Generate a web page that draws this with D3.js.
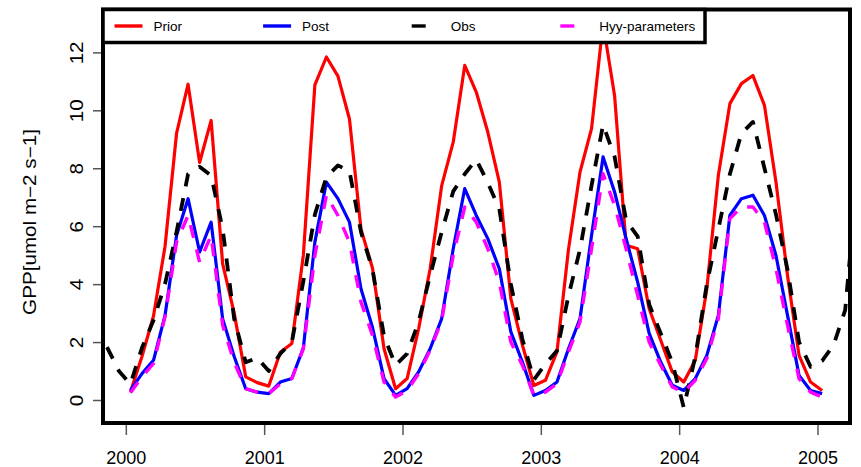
<html>
<head>
	<meta charset="UTF-8">
	<script src="https://cdn.jsdelivr.net/npm/d3@7"></script>
	<style>
		body { margin: 0; background: white; }
		text { font-family: "Liberation Sans", Arial, sans-serif; fill: black; }
		path.series { fill: none; stroke-linejoin: round; }
		.tick line { stroke: #555; stroke-width: 1.5; }
	</style>
</head>
<body>

<div id="graph"></div>

<script type="text/javascript">
// monthly GPP, Jan 2000 .. Jan 2005
var prior = [0.28, 1.5, 2.9, 5.3, 9.2, 10.9, 8.2, 9.65, 4.7, 3.0, 0.8, 0.6,
	0.48, 1.65, 1.95, 5.0, 10.88, 11.84, 11.18, 9.7, 5.9, 4.55, 1.77, 0.39,
	0.74, 2.46, 4.53, 7.4, 8.9, 11.55, 10.63, 9.25, 7.52, 3.5, 1.9, 0.5,
	0.68, 1.66, 5.2, 7.87, 9.37, 13.0, 10.5, 5.34, 5.22, 3.15, 2.06, 0.97,
	0.62, 1.37, 3.84, 7.76, 10.23, 10.92, 11.2, 10.17, 7.52, 4.3, 1.54, 0.62,
	0.33];
var post = [0.33, 0.91, 1.37, 2.92, 5.68, 6.95, 5.11, 6.14, 2.8, 1.5, 0.39, 0.27,
	0.22, 0.62, 0.74, 1.8, 5.45, 7.52, 6.95, 6.14, 3.84, 2.5, 0.74, 0.16,
	0.39, 0.97, 1.77, 2.81, 5.22, 7.3, 6.37, 5.57, 4.53, 2.35, 1.31, 0.16,
	0.33, 0.62, 1.77, 2.81, 5.68, 8.39, 7.18, 5.57, 4.07, 2.3, 1.31, 0.51,
	0.33, 0.74, 1.54, 2.92, 6.37, 6.95, 7.07, 6.37, 4.99, 2.92, 0.85, 0.33,
	0.22];
var hyy = [0.25, 0.8, 1.26, 2.87, 5.45, 6.37, 4.76, 5.68, 2.58, 1.3, 0.39, 0.27,
	0.22, 0.56, 0.74, 1.77, 4.99, 7.07, 6.37, 5.45, 3.38, 2.23, 0.62, 0.1,
	0.33, 0.91, 1.72, 2.75, 4.99, 6.66, 6.14, 5.22, 4.07, 2.0, 1.2, 0.16,
	0.27, 0.56, 1.66, 2.7, 5.22, 7.81, 6.72, 5.22, 3.61, 2.0, 1.2, 0.45,
	0.27, 0.68, 1.43, 2.81, 6.26, 6.66, 6.66, 6.14, 4.53, 2.58, 0.74, 0.27,
	0.1];
// observations run Oct 1999 .. Apr 2005
var obsStart = -3;
var obs = [2.6, 1.8, 1.0,
	0.55, 1.8, 2.75, 4.0, 5.8, 7.8, 8.05, 7.75, 5.9, 2.8, 1.3, 1.45,
	1.0, 1.6, 2.0, 4.1, 6.4, 7.7, 8.1, 7.9, 5.8, 4.5, 2.2, 1.2,
	1.6, 2.7, 4.3, 5.8, 7.2, 7.8, 8.3, 7.5, 6.6, 4.0, 2.1, 0.7,
	1.25, 1.7, 3.6, 5.2, 7.4, 9.5, 8.4, 6.2, 5.65, 3.3, 2.3, 1.3,
	-0.26, 1.5, 4.0, 5.9, 7.8, 9.2, 9.6, 8.0, 6.4, 4.5, 2.0, 1.15,
	1.35, 1.9, 3.1, 7.5];

var years = [2000, 2001, 2002, 2003, 2004, 2005];
var yTicks = [0, 2, 4, 6, 8, 10, 12];
var names = ["Prior", "Post", "Obs", "Hyy-parameters"];
var colors = ["#ff0000", "#0000ff", "#000000", "#ff00ff"];

(function(d3) {
	var W = 861, H = 467;
	var left = 103, right = 850, top = 9.5, bottom = 423;

	var vis = d3.select("#graph").append("svg")
		.attr("width", W).attr("height", H);
	vis.append("rect").attr("width", W).attr("height", H).attr("fill", "white");

	var x = d3.scaleLinear().domain([1999.835, 2005.235]).range([left, right]);
	var y = d3.scaleLinear().domain([-0.794, 13.48]).range([bottom, top]);

	function month(i) { return 2000 + (i + 0.4) / 12; }

	vis.append("clipPath").attr("id", "clip")
		.append("rect")
		.attr("x", left).attr("y", top)
		.attr("width", right - left).attr("height", bottom - top);

	var line = d3.line()
		.x(function(d) { return x(d[0]); })
		.y(function(d) { return y(d[1]); });

	function pairs(vals, start) {
		return vals.map(function(v, i) { return [month(i + start), v]; });
	}

	var series = [
		{ data: pairs(prior, 0), color: colors[0], width: 3.2, dash: null },
		{ data: pairs(post, 0), color: colors[1], width: 3.2, dash: null },
		{ data: pairs(obs, obsStart), color: colors[2], width: 3.8, dash: "13,12" },
		{ data: pairs(hyy, 0), color: colors[3], width: 3.4, dash: "13,12" }
	];

	var g = vis.append("g").attr("clip-path", "url(#clip)");
	series.forEach(function(s) {
		g.append("path")
			.attr("class", "series")
			.attr("d", line(s.data))
			.attr("stroke", s.color)
			.attr("stroke-width", s.width)
			.attr("stroke-dasharray", s.dash);
	});

	// axes
	var xa = vis.append("g")
		.attr("transform", "translate(0," + bottom + ")")
		.call(d3.axisBottom(x).tickValues(years).tickFormat(d3.format("d")).tickSize(12).tickPadding(0));
	xa.select(".domain").remove();
	xa.selectAll("text").attr("font-size", 18).attr("y", 0).attr("dy", 0)
		.attr("transform", "translate(0,41)");

	var ya = vis.append("g")
		.attr("transform", "translate(" + left + ",0)")
		.call(d3.axisLeft(y).tickValues(yTicks).tickSize(10));
	ya.select(".domain").remove();
	ya.selectAll("text")
		.attr("x", null).attr("dy", null)
		.attr("text-anchor", "middle")
		.attr("font-size", 17.5)
		.attr("transform", "translate(-20.5,0) scale(1,1.18) rotate(-90)");

	vis.append("text")
		.attr("text-anchor", "middle")
		.attr("font-size", 17.5)
		.attr("transform", "translate(36,222) scale(1,1.18) rotate(-90)")
		.text("GPP[umol m\u22122 s\u22121]");

	// frame
	vis.append("rect")
		.attr("x", left).attr("y", top)
		.attr("width", right - left).attr("height", bottom - top)
		.attr("fill", "none").attr("stroke", "black").attr("stroke-width", 4);

	// legend
	var lg = vis.append("g");
	lg.append("rect")
		.attr("x", left).attr("y", top)
		.attr("width", 602).attr("height", 33)
		.attr("fill", "white").attr("stroke", "black").attr("stroke-width", 3.5);
	names.forEach(function(n, i) {
		var x0 = 114.5 + i * 148.6;
		lg.append("line")
			.attr("x1", x0).attr("x2", x0 + 28)
			.attr("y1", 26).attr("y2", 26)
			.attr("stroke", colors[i]).attr("stroke-width", 3.4)
			.attr("stroke-dasharray", i >= 2 ? "14,14" : null);
		lg.append("text")
			.attr("x", x0 + 39).attr("y", 31)
			.attr("font-size", 13.5)
			.text(n);
	});
})(window.d3);
</script>
</body>
</html>
